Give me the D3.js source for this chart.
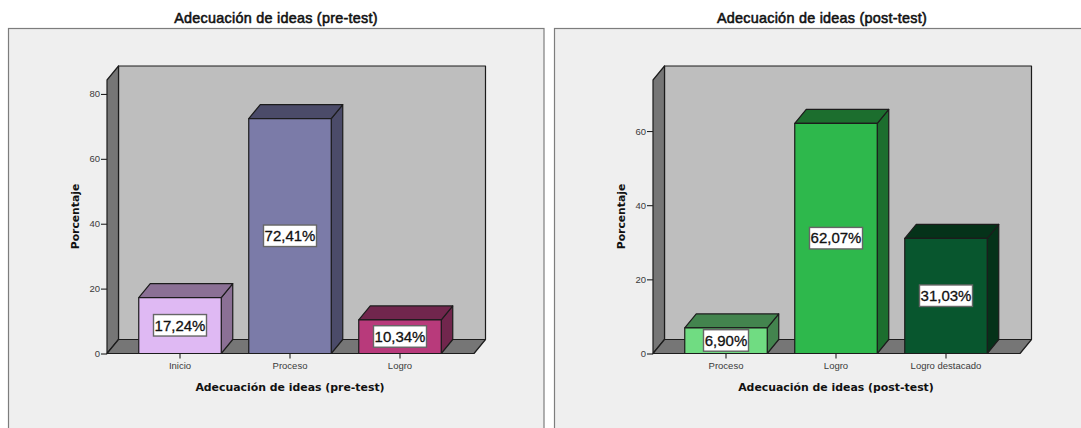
<!DOCTYPE html>
<html><head><meta charset="utf-8">
<script src="https://cdn.jsdelivr.net/npm/d3@7/dist/d3.min.js"></script>
<style>
html,body{margin:0;padding:0;background:#fff;overflow:hidden}
svg{display:block}
.tick text{font-family:"Liberation Sans",Arial,sans-serif;font-size:9.5px;fill:#3a3a3a}
</style></head><body>
<svg id="c" width="1081" height="428"></svg>
<script>
const preCategories = ["Inicio", "Proceso", "Logro"];
const preValues = [17.24, 72.41, 10.34];
const preLabels = ["17,24%", "72,41%", "10,34%"];
const preTicks = [0, 20, 40, 60, 80];
const preColors = ["#DFB9F3", "#7B7BA8", "#B83A7B"];
const preTops = ["#8B7095", "#4B4B69", "#71264D"];
const preTitle = "Adecuación de ideas (pre-test)";

const postCategories = ["Proceso", "Logro", "Logro destacado"];
const postValues = [6.90, 62.07, 31.03];
const postLabels = ["6,90%", "62,07%", "31,03%"];
const postTicks = [0, 20, 40, 60];
const postColors = ["#70DC82", "#2EB84C", "#08562E"];
const postTops = ["#43844E", "#1C6E2E", "#053219"];
const postTitle = "Adecuación de ideas (post-test)";

const yAxisTitle = "Porcentaje";

const svg = d3.select("#c");
const dx = 11.5, dy = 14, y0 = 353.5, yTop = 80;

function panel(o) {
  const g = svg.append("g");
  const x = d3.scaleBand().domain(o.cats).range([o.left + 18, o.left + 348]).padding(0.25).paddingOuter(0.125);
  const y = d3.scaleLinear().domain([0, o.ymax]).range([y0, yTop]);
  const L = o.left, R = o.left + 367;
  const line = d3.line();
  const poly = (pts, fill, sw) => g.append("path").attr("d", line(pts) + "Z").attr("fill", fill)
    .attr("stroke", "#1c1c1c").attr("stroke-width", sw || 1.2).attr("stroke-linejoin", "round");

  g.append("rect").attr("x", o.frameX).attr("y", 28.5).attr("width", o.frameW).attr("height", 420)
    .attr("fill", "#EFEFEF").attr("stroke", "#7d7d7d").attr("stroke-width", 1.2);

  g.append("text").attr("x", o.titleX).attr("y", 22.5).attr("text-anchor", "middle")
    .attr("font-family", "Liberation Sans,Arial,sans-serif").attr("letter-spacing", 0.25)
    .attr("font-size", 14.4).attr("fill", "#111").attr("stroke", "#111").attr("stroke-width", 0.55).text(o.title);

  // walls
  poly([[L + dx, yTop - dy], [R + dx, yTop - dy], [R + dx, y0 - dy], [L + dx, y0 - dy]], "#BEBEBE");
  poly([[L, yTop], [L + dx, yTop - dy], [L + dx, y0 - dy], [L, y0]], "#767676");
  poly([[L, y0], [L + dx, y0 - dy], [R + dx, y0 - dy], [R, y0]], "#767676");

  // axes
  const ay = g.append("g").attr("transform", `translate(${L},0)`)
    .call(d3.axisLeft(y).tickValues(o.ticks).tickSize(6).tickPadding(1));
  ay.select(".domain").remove();
  ay.selectAll("line").attr("stroke", "#222").attr("stroke-width", 1.1);
  const ax = g.append("g").attr("transform", `translate(0,${y0})`)
    .call(d3.axisBottom(x).tickSize(5).tickPadding(4));
  ax.select(".domain").remove();
  ax.selectAll("line").attr("stroke", "#222").attr("stroke-width", 1.1);

  // bars
  o.cats.forEach((c, i) => {
    const a = x(c), b = a + x.bandwidth(), t = y(o.vals[i]);
    poly([[b, y0], [b + dx, y0 - dy], [b + dx, t - dy], [b, t]], o.tops[i]);
    poly([[a, t], [a + dx, t - dy], [b + dx, t - dy], [b, t]], o.tops[i]);
    poly([[a, t], [b, t], [b, y0], [a, y0]], o.colors[i]);
  });
  // value labels
  o.cats.forEach((c, i) => {
    const cx = x(c) + x.bandwidth() / 2, cy = (y(o.vals[i]) + y0) / 2;
    const n = o.labels[i].length;
    const w = n === 6 ? 53 : 45;
    g.append("rect").attr("x", cx - w / 2).attr("y", cy - 11).attr("width", w).attr("height", 21.5)
      .attr("fill", "#fff").attr("stroke", "#666").attr("stroke-width", 1.4);
    g.append("text").attr("x", cx).attr("y", cy + 5).attr("text-anchor", "middle")
      .attr("font-family", "Liberation Sans,Arial,sans-serif").attr("font-size", 15)
      .attr("fill", "#111").attr("stroke", "#111").attr("stroke-width", 0.3).text(o.labels[i]);
  });

  // axis titles
  g.append("text").attr("x", o.titleX + o.xtOff).attr("y", 390.5).attr("text-anchor", "middle")
    .attr("font-family", "DejaVu Sans,sans-serif").attr("font-weight", "bold")
    .attr("font-size", 10.9).attr("fill", "#111").text(o.title);
  g.append("text").attr("transform", `translate(${L - 28},216.5) rotate(-90)`).attr("text-anchor", "middle")
    .attr("font-family", "DejaVu Sans,sans-serif").attr("font-weight", "bold")
    .attr("font-size", 10.8).attr("fill", "#111").text(yAxisTitle);
}

panel({left: 107, frameX: 8.5, frameW: 535.5, titleX: 276, xtOff: 14, ymax: 84.3,
  cats: preCategories, vals: preValues, labels: preLabels, ticks: preTicks,
  colors: preColors, tops: preTops, title: preTitle});
panel({left: 653, frameX: 554.5, frameW: 535, titleX: 822, xtOff: 14, ymax: 73.76,
  cats: postCategories, vals: postValues, labels: postLabels, ticks: postTicks,
  colors: postColors, tops: postTops, title: postTitle});
</script>
</body></html>
